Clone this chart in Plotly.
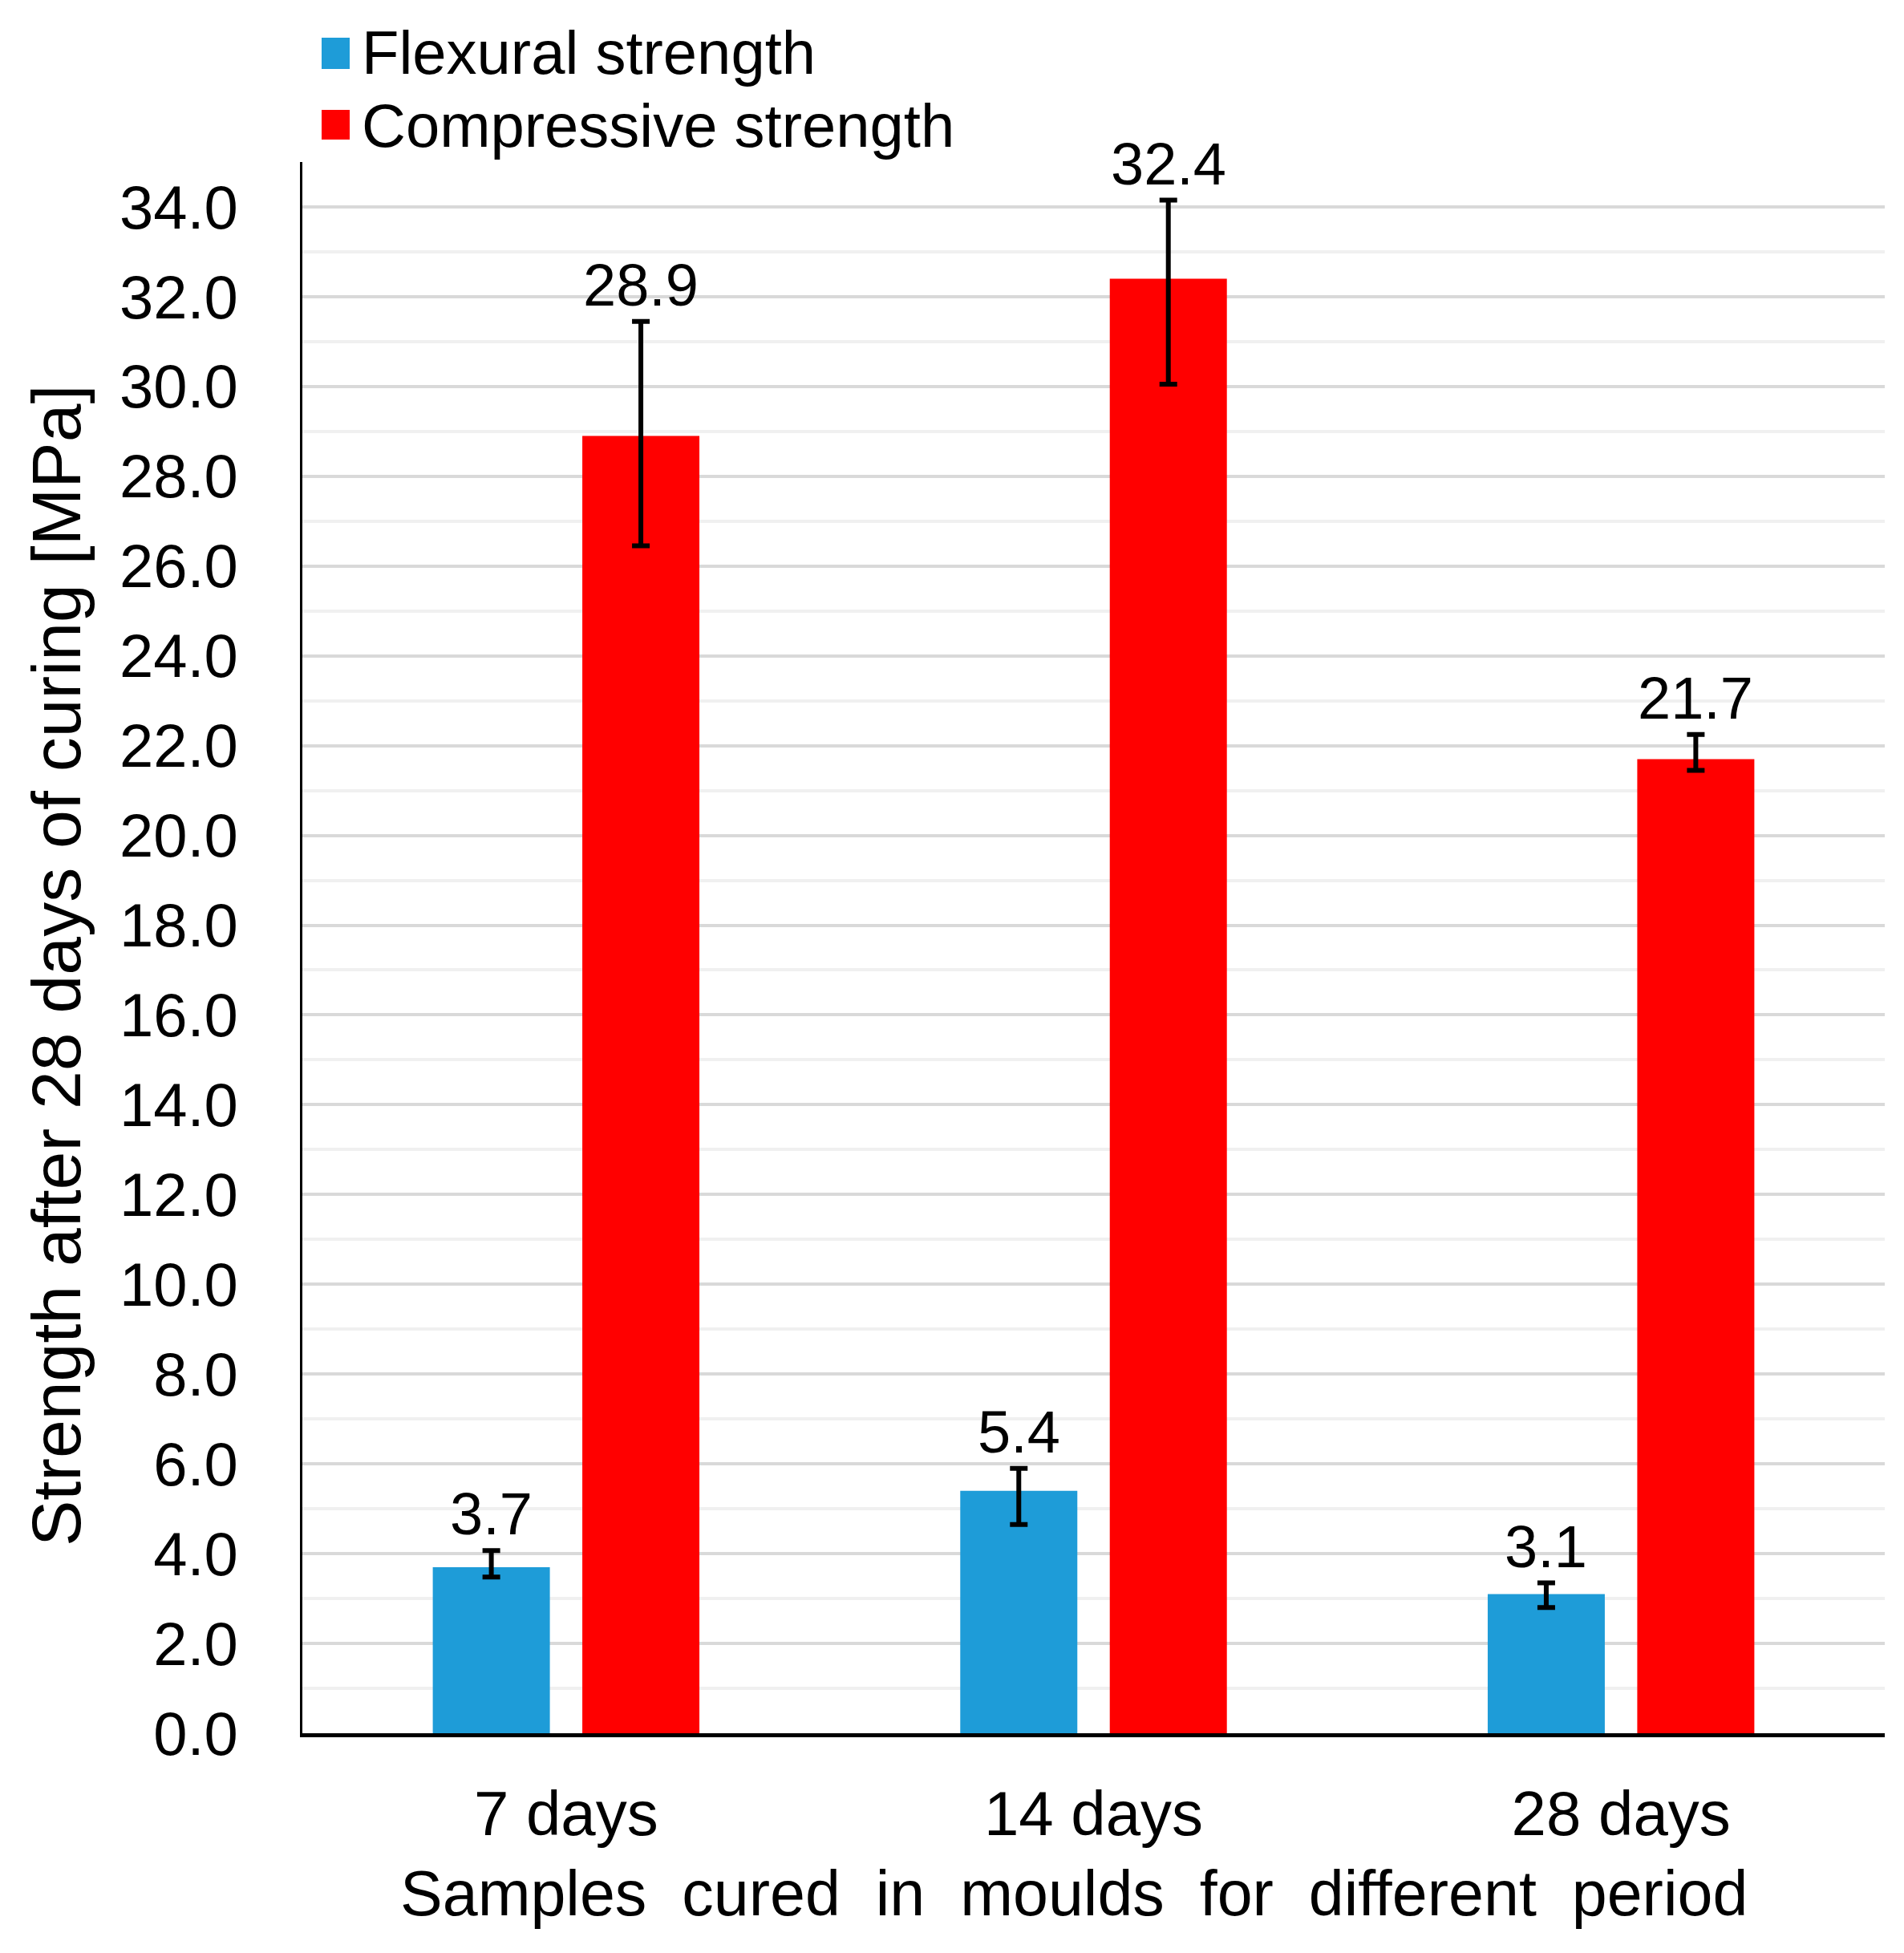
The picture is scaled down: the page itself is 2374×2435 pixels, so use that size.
import plotly.graph_objects as go

categories = ["7 days", "14 days", "28 days"]
flexural = [3.7, 5.4, 3.1]
flexural_err_plus = [0.37, 0.5, 0.25]
flexural_err_minus = [0.22, 0.75, 0.3]
compressive = [28.9, 32.4, 21.7]
compressive_err_plus = [2.55, 1.75, 0.55]
compressive_err_minus = [2.45, 2.35, 0.25]
series_names = ["Flexural strength", "Compressive strength"]
colors = ["#1E9CD8", "#FF0000"]
x_title = "Samples\u00a0 cured\u00a0 in\u00a0 moulds\u00a0 for\u00a0 different\u00a0 period"
y_title = "Strength after 28 days of curing [MPa]"

W, H = 2374, 2435
ML, MR, MT, MB = 369, 32, 194, 282
BARGAP = 0.433
BARGROUPGAP = 0.217
FONT = "Liberation Sans, Arial, sans-serif"

plot_w = W - ML - MR
plot_h = H - MT - MB


def px_x(px):
    return (px - ML) / plot_w


def px_y(py):
    return (H - MB - py) / plot_h


fig = go.Figure()
series = [
    (series_names[0], flexural, flexural_err_plus, flexural_err_minus, colors[0]),
    (series_names[1], compressive, compressive_err_plus, compressive_err_minus, colors[1]),
]
for name, vals, ep, em, col in series:
    fig.add_trace(go.Bar(
        x=categories, y=vals, name=name, marker=dict(color=col, line=dict(width=0)),
        error_y=dict(type="data", symmetric=False, array=ep, arrayminus=em, visible=True,
                     color="black", thickness=6, width=11),
        showlegend=False,
    ))

# data labels above error bars
cat_w = plot_w / len(categories)
slot = cat_w * (1 - BARGAP) / 2
offsets = [-slot / 2, slot / 2]
for k, (name, vals, ep, em, col) in enumerate(series):
    for c, v, e in zip(categories, vals, ep):
        fig.add_annotation(x=c, y=v + e, xref="x", yref="y", text=f"{v:.1f}", showarrow=False,
                           xshift=offsets[k], yanchor="bottom", yshift=2,
                           font=dict(family=FONT, size=74, color="black"))

# legend (manual, large swatches)
leg_rows = [(39, 78, 57), (129, 166, 148)]
for name, col, (t, b, c) in zip(series_names, colors, leg_rows):
    fig.add_shape(type="rect", xref="paper", yref="paper",
                  x0=px_x(393), x1=px_x(428), y0=px_y(b), y1=px_y(t),
                  fillcolor=col, line=dict(width=0))
    fig.add_annotation(xref="paper", yref="paper", x=px_x(441), y=px_y(c),
                       xanchor="left", yanchor="middle", text=name, showarrow=False,
                       font=dict(family=FONT, size=76, color="black"))

# axis titles
fig.add_annotation(xref="paper", yref="paper", x=px_x(62), y=px_y(1196), text=y_title,
                   textangle=-90, showarrow=False, xanchor="center", yanchor="middle",
                   font=dict(family=FONT, size=86, color="black"))
fig.add_annotation(xref="paper", yref="paper", x=px_x(1331), y=px_y(2352), text=x_title,
                   showarrow=False, xanchor="center", yanchor="middle",
                   font=dict(family=FONT, size=79, color="black"))

fig.update_layout(
    width=W, height=H,
    margin=dict(l=ML, r=MR, t=MT, b=MB),
    paper_bgcolor="white", plot_bgcolor="white",
    barmode="group", bargap=BARGAP, bargroupgap=BARGROUPGAP,
    font=dict(family=FONT, color="black"),
    showlegend=False,
    xaxis=dict(
        showline=True, linecolor="black", linewidth=5,
        ticks="outside", ticklen=28, tickcolor="rgba(0,0,0,0)",
        tickfont=dict(size=78, family=FONT),
        showgrid=False,
    ),
    yaxis=dict(
        range=[0, 35], dtick=2, tick0=0, tickformat=".1f",
        showline=True, linecolor="black", linewidth=3,
        ticks="outside", ticklen=62, tickcolor="rgba(0,0,0,0)",
        tickfont=dict(size=76, family=FONT),
        showgrid=True, gridcolor="#D9D9D9", gridwidth=4,
        minor=dict(dtick=1, showgrid=True, gridcolor="#F0F0F0", gridwidth=4),
        zeroline=False,
    ),
)

fig.write_html("out.html")
